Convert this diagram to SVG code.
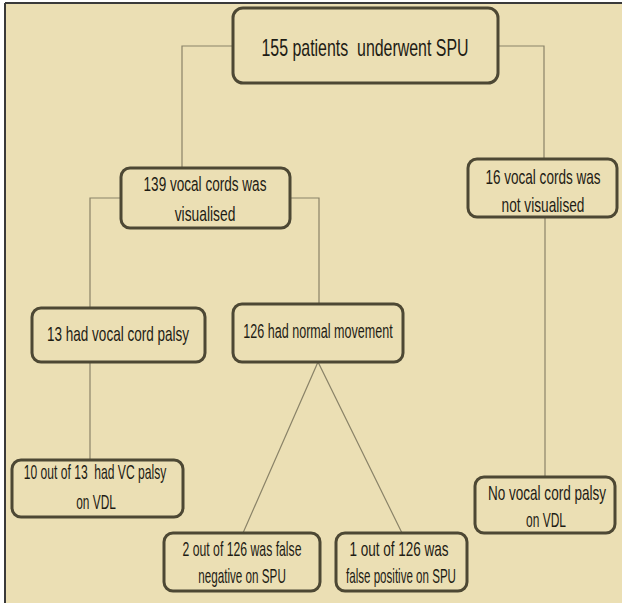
<svg xmlns="http://www.w3.org/2000/svg" width="622" height="603" viewBox="0 0 622 603">
<style>
.bg{fill:#ebdfb4}
.box{fill:#ebdfb4;stroke:#4d4834;stroke-width:3}
.ln{fill:none;stroke:#8a8368;stroke-width:1.2}
text{font-family:"Liberation Sans","DejaVu Sans",sans-serif;font-size:20.5px;fill:#1e1c14;text-anchor:middle}
.big{font-size:23px}
</style>
<rect x="0" y="0" width="622" height="603" fill="#ffffff"/>
<rect class="bg" x="5" y="3" width="617" height="600"/>
<path d="M5,3 H622 M5,3 V603" stroke="#3a3a3a" stroke-width="2" fill="none"/>
<g id="connectors">
<path class="ln" d="M233,46 H182 V168"/>
<path class="ln" d="M498,46 H544 V159"/>
<path class="ln" d="M121,198 H90 V308"/>
<path class="ln" d="M290,198 H319 V304"/>
<path class="ln" d="M90,362 V460"/>
<path class="ln" d="M545,217 V477"/>
<path class="ln" d="M243,533 L318,362 L402,533"/>
</g>
<g id="n1">
<rect class="box" x="233" y="8" width="265" height="75" rx="10"/>
<text class="big" transform="translate(365,56) scale(0.693,1)" xml:space="preserve">155 patients  underwent SPU</text>
</g>
<g id="n2">
<rect class="box" x="121" y="168" width="169" height="60" rx="9"/>
<text transform="translate(205,191) scale(0.662,1)">139 vocal cords was</text>
<text transform="translate(205,221) scale(0.675,1)">visualised</text>
</g>
<g id="n3">
<rect class="box" x="468" y="159" width="149" height="58" rx="9"/>
<text transform="translate(543,184) scale(0.66,1)">16 vocal cords was</text>
<text transform="translate(543,212) scale(0.668,1)">not visualised</text>
</g>
<g id="n4">
<rect class="box" x="32" y="308" width="173" height="54" rx="9"/>
<text transform="translate(118,341) scale(0.659,1)">13 had vocal cord palsy</text>
</g>
<g id="n5">
<rect class="box" x="233" y="304" width="170" height="58" rx="9"/>
<text transform="translate(318,338) scale(0.613,1)">126 had normal movement</text>
</g>
<g id="n6">
<rect class="box" x="12" y="460" width="171" height="57" rx="9"/>
<text transform="translate(95,479) scale(0.59,1)" xml:space="preserve">10 out of 13  had VC palsy</text>
<text transform="translate(96,509) scale(0.58,1)">on VDL</text>
</g>
<g id="n7">
<rect class="box" x="164" y="533" width="156" height="58" rx="9"/>
<text transform="translate(242,556) scale(0.597,1)">2 out of 126 was false</text>
<text transform="translate(242,583) scale(0.57,1)">negative on SPU</text>
</g>
<g id="n8">
<rect class="box" x="336" y="533" width="131" height="58" rx="9"/>
<text transform="translate(399,556) scale(0.66,1)">1 out of 126 was</text>
<text transform="translate(401,583) scale(0.565,1)">false positive on SPU</text>
</g>
<g id="n9">
<rect class="box" x="475" y="477" width="140" height="56" rx="9"/>
<text transform="translate(547,500) scale(0.66,1)">No vocal cord palsy</text>
<text transform="translate(546,527) scale(0.585,1)">on VDL</text>
</g>
</svg>
